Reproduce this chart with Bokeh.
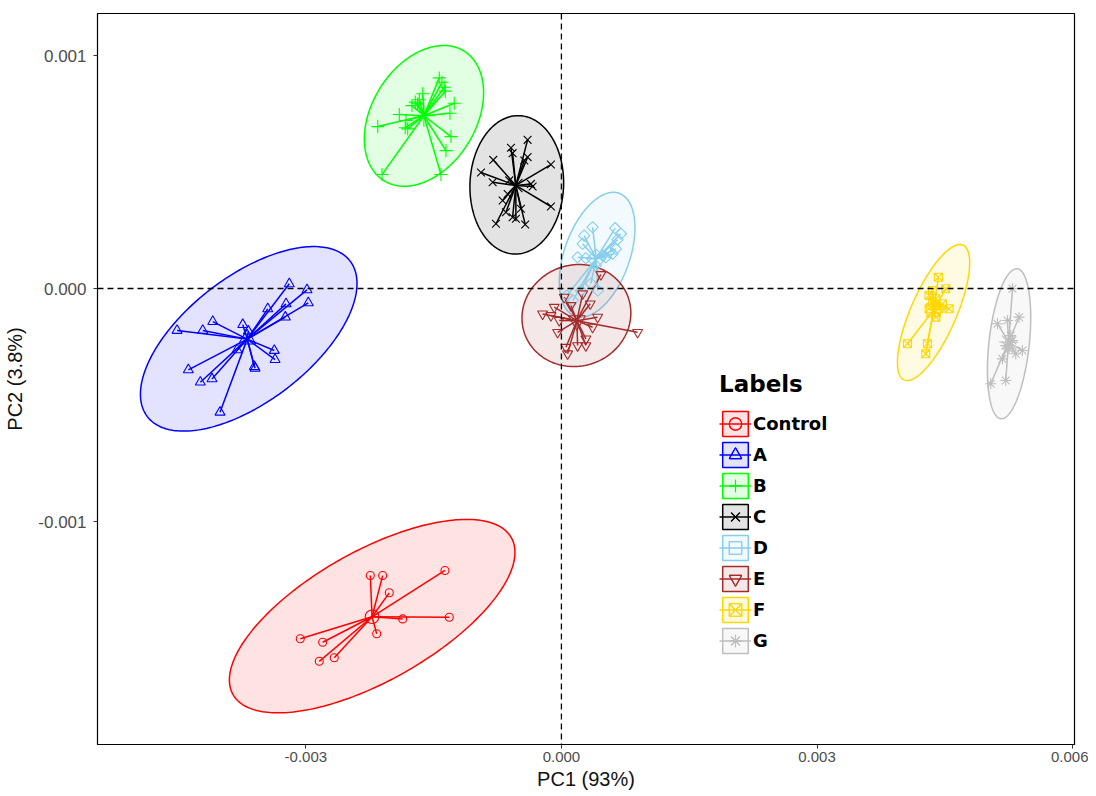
import numpy as np
from bokeh.plotting import figure
from bokeh.models import (ColumnDataSource, Span, Range1d, FixedTicker, Legend,
                          LegendItem, NumeralTickFormatter)
from bokeh.embed import file_html
from bokeh.resources import INLINE

# ---------------- data ----------------
groups = ["Control", "A", "B", "C", "D", "E", "F", "G"]
colors = ["#FF0000", "#0000FF", "#00FF00", "#000000", "#87CEEB", "#A52A2A", "#FFD700", "#BEBEBE"]
markers = ["circle", "triangle", "cross", "x", "square", "inverted_triangle", "square_x", "asterisk"]

ctrl_x = [-0.002243, -0.002098, -0.002020, -0.001367, -0.001863, -0.001316, -0.002168, -0.003065, -0.002802, -0.002842, -0.002666]
ctrl_y = [-0.001232, -0.001232, -0.001306, -0.001210, -0.001418, -0.001411, -0.001482, -0.001503, -0.001518, -0.001600, -0.001585]

a_x = [-0.003194, -0.002986, -0.002971, -0.003232, -0.003240, -0.003447, -0.004092, -0.004511, -0.004210, -0.003740,
       -0.003675, -0.003370, -0.003361, -0.003604, -0.003596, -0.003807, -0.004379, -0.004238, -0.004101, -0.004007]
a_y = [0.0000202, -0.0000056, -0.0000614, -0.0000657, -0.000123, -0.0000871, -0.000142, -0.000180, -0.000180, -0.000155,
       -0.000183, -0.000266, -0.000305, -0.000335, -0.000342, -0.000263, -0.000349, -0.000402, -0.000388, -0.000531]

b_x = [-0.001434, -0.001402, -0.001375, -0.001363, -0.001628, -0.001668, -0.001687, -0.001754, -0.001715, -0.001903,
       -0.001824, -0.001804, -0.001833, -0.002156, -0.001258, -0.001308, -0.001296, -0.001355, -0.002106, -0.001414]
b_y = [0.000904, 0.000885, 0.000864, 0.000847, 0.000836, 0.000810, 0.000793, 0.000785, 0.000800, 0.000747,
       0.000721, 0.000685, 0.000690, 0.000695, 0.000795, 0.000752, 0.000652, 0.000592, 0.000489, 0.000489]

c_x = [-0.000397, -0.000592, -0.000573, -0.000397, -0.000436, -0.000800, -0.000944, -0.000123, -0.000807, -0.000612,
       -0.000358, -0.000338, -0.000123, -0.000690, -0.000631, -0.000651, -0.000573, -0.000768, -0.000475, -0.000425, -0.000534]
c_y = [0.000638, 0.000604, 0.000581, 0.000564, 0.000549, 0.000552, 0.000498, 0.000532, 0.000456, 0.000464,
       0.000449, 0.000438, 0.000352, 0.000378, 0.000406, 0.000327, 0.000306, 0.000278, 0.000342, 0.000275, 0.000299]

d_x = [0.000366, 0.000631, 0.000698, 0.000659, 0.000267, 0.000249, 0.000639, 0.000601, 0.000190, 0.000287,
       0.000483, 0.000522, 0.000561, 0.000405, 0.0000645, 0.000229, 0.000346, 0.000428, 0.000135]
d_y = [0.000263, 0.000259, 0.000235, 0.000210, 0.000227, 0.000192, 0.000170, 0.000149, 0.000134, 0.000130,
       0.000142, 0.000134, 0.000156, 0.0000987, -0.0000300, -0.0000086, 0.0000215, -0.0000086, -0.0000515]

e_x = [-0.000221, -0.000123, -0.0000845, 0.0000329, 0.000249, 0.000338, 0.000425, 0.000366, 0.000894,
       -0.0000446, 0.0000528, 0.0000727, 0.000190, 0.000287, 0.000287, -0.0000258, 0.000111, 0.000463]
e_y = [-0.000109, -0.000116, -0.0000803, -0.0000373, -0.0000227, -0.0000657, -0.000123, -0.000166, -0.000188,
       -0.000188, -0.000252, -0.000280, -0.000245, -0.000245, -0.000216, -0.000137, -0.0000730, 0.0000601]

f_x = [0.004425, 0.004511, 0.004355, 0.004315, 0.004394, 0.004472, 0.004550, 0.004432, 0.004315, 0.004394,
       0.004062, 0.004296, 0.004276, 0.004355]
f_y = [0.0000485, -0.0000013, -0.0000086, -0.0000300, -0.0000442, -0.0000657, -0.0000871, -0.0000871, -0.0000871,
       -0.000123, -0.000237, -0.000237, -0.000280, -0.0000588]

g_x = [0.005294, 0.005118, 0.005235, 0.005371, 0.005274, 0.005215, 0.005411, 0.005332, 0.005176, 0.005254,
       0.005215, 0.005039, 0.005294]
g_y = [-0.0000013, -0.000151, -0.000137, -0.000123, -0.000202, -0.000245, -0.000266, -0.000280, -0.000302,
       -0.000259, -0.000395, -0.000409, -0.000223]

# confidence ellipses: centre, half-width (x), half-height (y), tilt correlation
ell_cx = [-0.002221, -0.003670, -0.001613, -0.000524, 0.000419, 0.000176, 0.004368, 0.005254]
ell_cy = [-0.001406, -0.000216, 0.000741, 0.000445, 0.000145, -0.000116, -0.000103, -0.000237]
ell_sx = [0.001676, 0.001271, 0.000700, 0.000550, 0.000444, 0.000639, 0.000424, 0.000254]
ell_sy = [0.000415, 0.000396, 0.000302, 0.000297, 0.000268, 0.000219, 0.000292, 0.000322]
ell_r = [0.66, 0.60, 0.33, 0.03, 0.43, 0.05, 0.73, 0.35]

x_ticks = [-0.003, 0.0, 0.003, 0.006]
y_ticks = [-0.001, 0.0, 0.001]

xs_all = [ctrl_x, a_x, b_x, c_x, d_x, e_x, f_x, g_x]
ys_all = [ctrl_y, a_y, b_y, c_y, d_y, e_y, f_y, g_y]

# ---------------- figure ----------------
p = figure(width=1088, height=794, output_backend="svg", toolbar_location=None,
           x_range=Range1d(-0.005445, 0.006022), y_range=Range1d(-0.001957, 0.0011803),
           min_border_left=97, min_border_right=14, min_border_top=13, min_border_bottom=50,
           x_axis_label="PC1 (93%)", y_axis_label="PC2 (3.8%)")
p.grid.visible = False
p.outline_line_color = "black"
p.outline_line_width = 1.2
p.background_fill_color = "white"

for ax in (p.xaxis[0], p.yaxis[0]):
    ax.major_label_text_font = "Liberation Sans"
    ax.major_label_text_color = "#4D4D4D"
    ax.axis_label_text_font = "Liberation Sans"
    ax.axis_label_text_font_size = "20px"
    ax.axis_label_text_font_style = "normal"
    ax.axis_label_text_color = "#111111"
    ax.major_tick_in = 0
    ax.major_tick_out = 4
    ax.major_tick_line_color = "#333333"
    ax.minor_tick_line_color = None
    ax.axis_line_color = "black"
    ax.formatter = NumeralTickFormatter(format="0.000")
p.xaxis[0].major_label_text_font_size = "15px"
p.yaxis[0].major_label_text_font_size = "17px"
p.xaxis[0].ticker = FixedTicker(ticks=x_ticks)
p.yaxis[0].ticker = FixedTicker(ticks=y_ticks)
p.xaxis[0].major_label_standoff = 3
p.xaxis[0].axis_label_standoff = 3
p.yaxis[0].major_label_standoff = 7
p.yaxis[0].axis_label_standoff = 9

p.add_layout(Span(location=0, dimension="height", line_color="black", line_dash="6 4", line_width=1.3))
p.add_layout(Span(location=0, dimension="width", line_color="black", line_dash="6 4", line_width=1.3))

t = np.linspace(0, 2 * np.pi, 240)
patch_r, seg_r, pt_r, cen_r = [], [], [], []
for i in range(len(groups)):
    ex = ell_cx[i] + ell_sx[i] * np.cos(t)
    ey = ell_cy[i] + ell_sy[i] * (ell_r[i] * np.cos(t) + np.sqrt(1 - ell_r[i] ** 2) * np.sin(t))
    patch_r.append(p.patch(ex, ey, fill_color=colors[i], fill_alpha=0.11,
                           line_color=colors[i], line_width=1.5))

sizes = [8, 10, 13, 11, 8, 10, 8, 11]
angles = [0, 0, 0, 0, np.pi / 4, 0, 0, 0]
for i in range(len(groups)):
    x = np.array(xs_all[i]); y = np.array(ys_all[i])
    cx, cy = x.mean(), y.mean()
    src = ColumnDataSource(dict(x=x, y=y, cx=np.full(len(x), cx), cy=np.full(len(x), cy)))
    seg_r.append(p.segment(x0="cx", y0="cy", x1="x", y1="y", source=src,
                           line_color=colors[i], line_width=1.5))

for i in range(len(groups)):
    x = np.array(xs_all[i]); y = np.array(ys_all[i])
    pt_r.append(p.scatter(x, y, marker=markers[i], size=sizes[i], angle=angles[i],
                          fill_alpha=0, line_color=colors[i], line_width=1.1))
    cen_r.append(p.scatter([x.mean()], [y.mean()], marker=markers[i], size=sizes[i] * 1.7,
                           angle=angles[i], fill_alpha=0, line_color=colors[i], line_width=1.1))

items = [LegendItem(label=groups[i], renderers=[patch_r[i], seg_r[i], pt_r[i], cen_r[i]])
         for i in range(len(groups))]
legend = Legend(items=items, location=(622, 88), title="Labels",
                title_text_font="DejaVu Sans", title_text_font_size="23px",
                title_text_font_style="bold", title_standoff=11, title_text_color="black",
                label_text_font="DejaVu Sans", label_text_font_size="18px",
                label_text_font_style="bold", label_standoff=2, label_text_color="black",
                glyph_width=32, glyph_height=31, spacing=0, padding=0, margin=0,
                border_line_alpha=0, background_fill_alpha=0)
p.add_layout(legend)

open("out.html", "w").write(file_html(p, INLINE))
